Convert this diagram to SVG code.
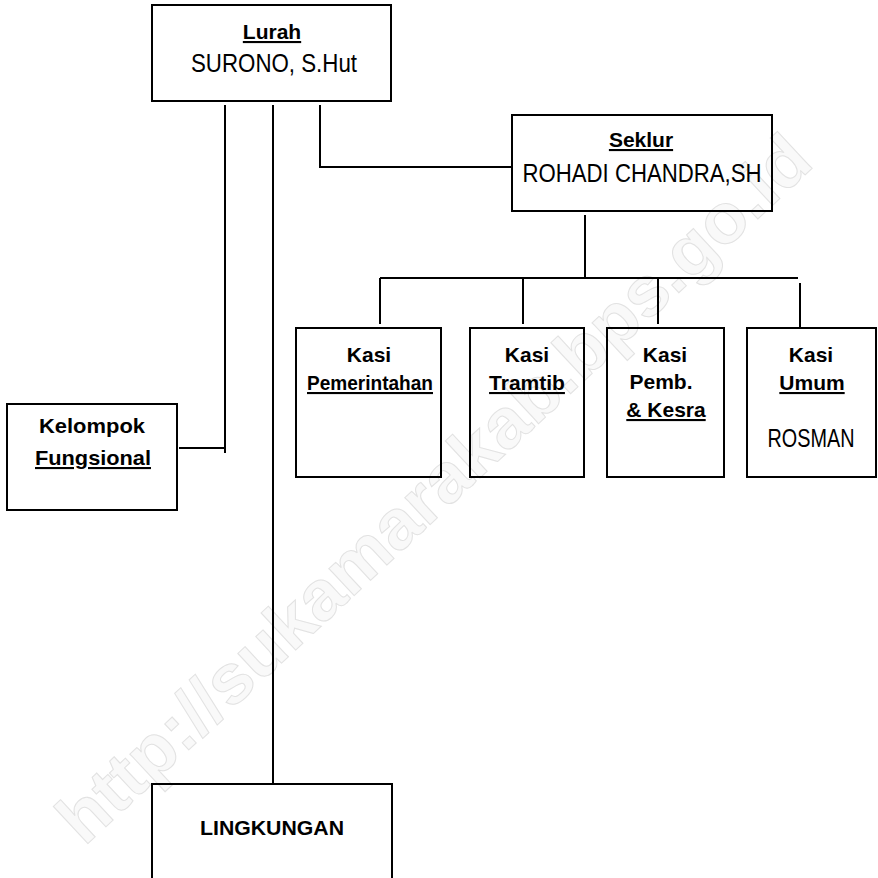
<svg xmlns="http://www.w3.org/2000/svg" width="878" height="878" viewBox="0 0 878 878">
<style>
.box{fill:none;stroke:#000;stroke-width:2}
.ln{fill:none;stroke:#000;stroke-width:2}
text{font-family:"Liberation Sans",Arial,sans-serif;fill:#000;text-anchor:middle}
.h{font-weight:bold;font-size:21px}
.u{text-decoration:underline}
.r{font-size:25px}
.wm{font-family:"Liberation Sans",Arial,sans-serif;font-weight:bold;font-size:70px;fill:#f9f9f9;stroke:#e2e2e2;stroke-width:1}
</style>
<rect width="878" height="878" fill="#fff"/>
<text class="wm" x="435" y="512" transform="rotate(-43 435 490)" textLength="1000" lengthAdjust="spacingAndGlyphs">http://sukamarakab.bps.go.id</text>
<g id="connectors">
<path class="ln" d="M225 105V453M179 448H225"/>
<path class="ln" d="M273 105V784"/>
<path class="ln" d="M320 105V167H512"/>
<path class="ln" d="M585 215V278M380 278H798M380 278V324M523 278V324M658 278V324M800 283V328"/>
</g>
<g id="lurah">
<rect class="box" x="152" y="5" width="239" height="96"/>
<text class="h u" x="272" y="39">Lurah</text>
<text class="r" x="274" y="72" textLength="166" lengthAdjust="spacingAndGlyphs">SURONO, S.Hut</text>
</g>
<g id="seklur">
<rect class="box" x="512" y="115" width="260" height="96"/>
<text class="h u" x="641" y="147">Seklur</text>
<text class="r" x="642" y="182" textLength="239" lengthAdjust="spacingAndGlyphs">ROHADI CHANDRA,SH</text>
</g>
<g id="kasi-pemerintahan">
<rect class="box" x="296" y="328" width="145" height="149"/>
<text class="h" x="369" y="362">Kasi</text>
<text class="h u" x="370" y="390" textLength="126" lengthAdjust="spacingAndGlyphs">Pemerintahan</text>
</g>
<g id="kasi-tramtib">
<rect class="box" x="470" y="328" width="114" height="149"/>
<text class="h" x="527" y="362">Kasi</text>
<text class="h u" x="527" y="390">Tramtib</text>
</g>
<g id="kasi-pemb">
<rect class="box" x="607" y="328" width="117" height="149"/>
<text class="h" x="665" y="362">Kasi</text>
<text class="h" x="661" y="389">Pemb.</text>
<text class="h u" x="666" y="417">&amp; Kesra</text>
</g>
<g id="kasi-umum">
<rect class="box" x="747" y="328" width="129" height="149"/>
<text class="h" x="811" y="362">Kasi</text>
<text class="h u" x="812" y="390">Umum</text>
<text class="r" x="811" y="447" font-size="22" textLength="87" lengthAdjust="spacingAndGlyphs">ROSMAN</text>
</g>
<g id="kelompok-fungsional">
<rect class="box" x="7" y="404" width="170" height="106"/>
<text class="h" x="92" y="433" textLength="106" lengthAdjust="spacingAndGlyphs">Kelompok</text>
<text class="h u" x="93" y="465" textLength="116" lengthAdjust="spacingAndGlyphs">Fungsional</text>
</g>
<g id="lingkungan">
<rect class="box" x="152" y="784" width="240" height="110"/>
<text class="h" x="272" y="835" font-size="22" textLength="144" lengthAdjust="spacingAndGlyphs">LINGKUNGAN</text>
</g>
</svg>
